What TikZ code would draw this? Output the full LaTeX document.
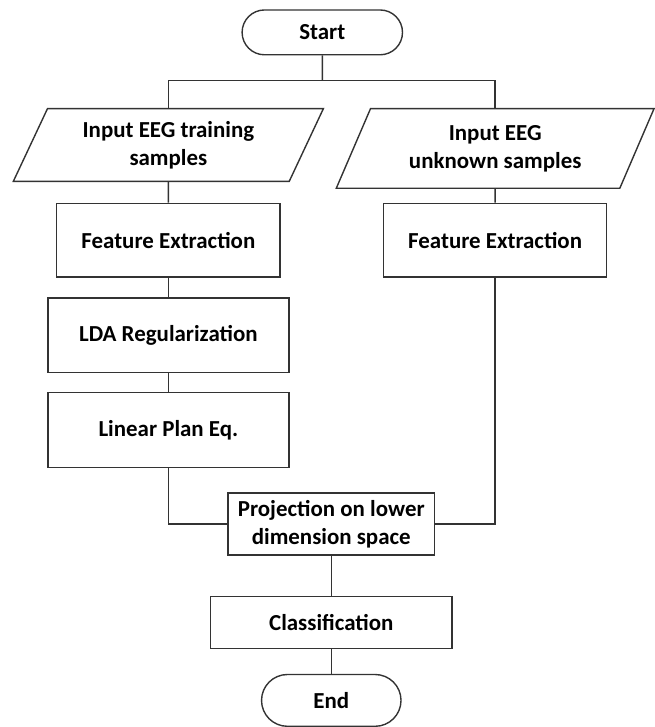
\documentclass[tikz,border=0pt]{standalone}
\usepackage{fontspec}
\setmainfont{Carlito}
\usepackage{tikz}
\usetikzlibrary{shapes.geometric,shapes.misc}
\colorlet{FlowLine}{black!80}

\begin{document}
\begin{tikzpicture}[x=1pt,y=-1pt,
        box/.style={draw=FlowLine,line width=1.4pt,rectangle,inner sep=0pt,align=center,
            font=\fontsize{23}{28}\selectfont\bfseries},
        term/.style={box,rounded rectangle},
        io/.style={box,trapezium,trapezium left angle=63,trapezium right angle=117,trapezium stretches=true},
        flow/.style={draw=FlowLine,line width=1.4pt}]
                \fill[white] (0,0) rectangle (642,727);

                \node[term,minimum width=161pt,minimum height=45pt] (start) at (323.5,32.5) {Start};
                \node[io,minimum width=312pt,minimum height=73pt] (in1) at (169,145.5) {Input EEG training\\samples};
                \node[io,minimum width=319pt,minimum height=80pt] (in2) at (497,149) {Input EEG\\unknown samples};
                \node[box,minimum width=224pt,minimum height=74pt] (fe1) at (169,241) {Feature Extraction};
                \node[box,minimum width=224pt,minimum height=74pt] (fe2) at (497,241) {Feature Extraction};
                \node[box,minimum width=242pt,minimum height=75pt] (lda) at (169,336.5) {LDA Regularization};
                \node[box,minimum width=242pt,minimum height=75pt] (lin) at (169,431.5) {Linear Plan Eq.};
                \node[box,minimum width=207pt,minimum height=62pt] (proj) at (332.5,526) {Projection on lower\\dimension space};
                \node[box,minimum width=242pt,minimum height=52pt] (cls) at (332.5,625) {Classification};
                \node[term,minimum width=140pt,minimum height=52pt] (end) at (332.5,703) {End};

                \coordinate (fork) at (323.5,81);
                \draw[flow] (start) -- (fork);
                \draw[flow] (in1.north) |- (fork) -| (in2.north);
                \draw[flow] (in1) -- (fe1);
                \draw[flow] (fe1) -- (lda);
                \draw[flow] (lda) -- (lin);
                \draw[flow] (lin.south) |- (proj.west);
                \draw[flow] (in2) -- (fe2);
                \draw[flow] (fe2.south) |- (proj.east);
                \draw[flow] (proj) -- (cls);
                \draw[flow] (cls) -- (end);
            \end{tikzpicture}
\end{document}
